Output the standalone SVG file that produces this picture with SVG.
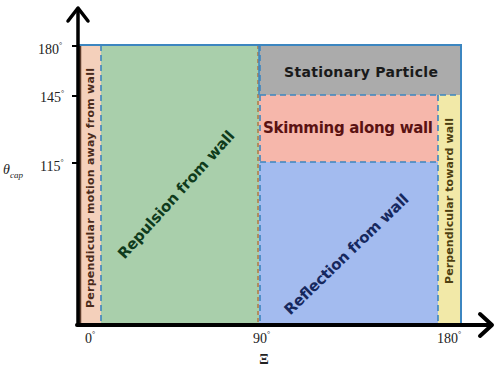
<svg xmlns="http://www.w3.org/2000/svg" width="498" height="369" viewBox="0 0 498 369">
<style>
.lbl{font-family:"Liberation Serif","Times New Roman",serif;font-size:14px;fill:#222}
.deg{font-size:8px}
.reg{font-family:"DejaVu Sans","Noto Sans",sans-serif;font-weight:bold}
.dash{fill:none;stroke:#3c86c0;stroke-width:1.6;stroke-dasharray:6,4}
.axis{fill:none;stroke:#000;stroke-linecap:round;stroke-linejoin:round}
</style>
<rect width="498" height="369" fill="#fff"/>
<g id="region-perp-away">
<rect x="78" y="45" width="23" height="279" fill="#f4d0bb"/>
<line x1="80" y1="45" x2="80" y2="324" stroke="#5a3a2a" stroke-width="2.5"/>
<text class="reg" transform="translate(94,188) rotate(-90)" text-anchor="middle" font-size="11" fill="#4a2a1a" textLength="240" lengthAdjust="spacing">Perpendicular motion away from wall</text>
</g>
<g id="region-repulsion">
<rect x="101" y="45" width="158" height="279" fill="#a9cfab"/>
<text class="reg" transform="translate(180,198) rotate(-48)" text-anchor="middle" font-size="15" fill="#0f3b1c" textLength="166" lengthAdjust="spacing">Repulsion from wall</text>
</g>
<g id="region-stationary">
<rect x="259" y="45" width="202" height="50" fill="#ababab"/>
<text class="reg" x="361" y="77" text-anchor="middle" font-size="14" fill="#1a1a1a" textLength="154" lengthAdjust="spacing">Stationary Particle</text>
</g>
<g id="region-skimming">
<rect x="259" y="95" width="179" height="67" fill="#f6b7ab"/>
<text class="reg" x="348" y="133" text-anchor="middle" font-size="15" fill="#5a1212" textLength="170" lengthAdjust="spacing">Skimming along wall</text>
</g>
<g id="region-reflection">
<rect x="259" y="162" width="179" height="162" fill="#a3bbef"/>
<text class="reg" transform="translate(350,258) rotate(-44)" text-anchor="middle" font-size="15" fill="#16285e" textLength="166" lengthAdjust="spacing">Reflection from wall</text>
</g>
<g id="region-perp-toward">
<rect x="438" y="95" width="23" height="229" fill="#f2e9a8"/>
<text class="reg" transform="translate(453,201) rotate(-90)" text-anchor="middle" font-size="11" fill="#4e4010" textLength="166" lengthAdjust="spacing">Perpendicular toward wall</text>
</g>
<g id="connectors">
<line x1="258" y1="45" x2="258" y2="324" stroke="#b8602a" stroke-width="1.2" stroke-dasharray="4,3"/>
<line class="dash" x1="101" y1="45" x2="101" y2="324"/>
<line class="dash" x1="260" y1="95" x2="461" y2="95"/>
<line class="dash" x1="260" y1="162" x2="438" y2="162"/>
<line class="dash" x1="438" y1="95" x2="438" y2="324"/>
<line class="dash" x1="260" y1="45" x2="260" y2="324"/>
<rect x="78" y="45" width="383" height="279" fill="none" stroke="#3c86c0" stroke-width="2"/>
<line x1="259" y1="45" x2="259" y2="95" stroke="#3c86c0" stroke-width="1.5"/>
<line class="axis" x1="78" y1="10" x2="78" y2="325" stroke-width="3.5"/>
<polyline class="axis" points="68,21 78,8 88,21" stroke-width="3.5"/>
<line class="axis" x1="77" y1="325" x2="489" y2="325" stroke-width="4"/>
<polyline class="axis" points="480,314 492,325 480,336" stroke-width="4"/>
<line x1="72" y1="46" x2="78" y2="46" stroke="#000" stroke-width="2"/>
<line x1="72" y1="96" x2="78" y2="96" stroke="#000" stroke-width="2"/>
<line x1="72" y1="163" x2="78" y2="163" stroke="#000" stroke-width="2"/>
</g>
<g id="axis-labels">
<text class="lbl" x="38" y="54">180<tspan class="deg" dy="-6">°</tspan></text>
<text class="lbl" x="40" y="102">145<tspan class="deg" dy="-6">°</tspan></text>
<text class="lbl" x="40" y="171">115<tspan class="deg" dy="-6">°</tspan></text>
<text class="lbl" x="3" y="174" font-style="italic" font-size="17">θ<tspan font-size="9" dy="4">cap</tspan></text>
<text class="lbl" x="85" y="343">0<tspan class="deg" dy="-6">°</tspan></text>
<text class="lbl" x="253" y="343">90<tspan class="deg" dy="-6">°</tspan></text>
<text class="lbl" x="437" y="343">180<tspan class="deg" dy="-6">°</tspan></text>
<text class="lbl" x="264" y="364" text-anchor="middle" font-size="15" font-weight="bold">Ξ</text>
</g>
</svg>
